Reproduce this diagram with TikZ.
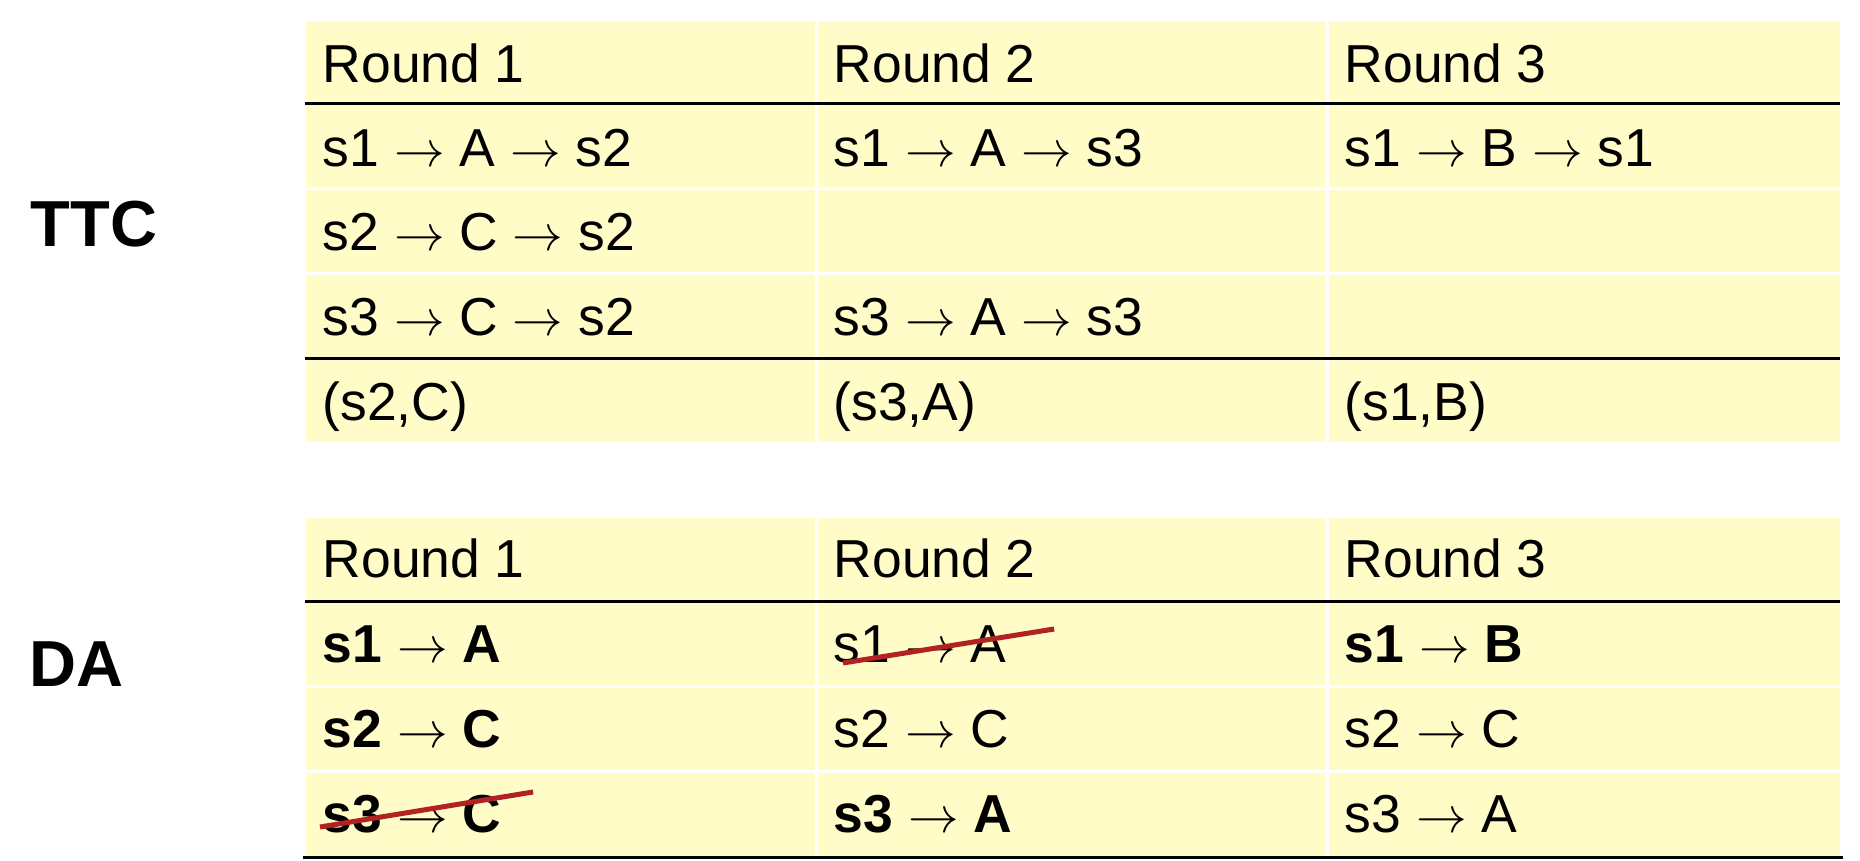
\documentclass[tikz,border=0pt]{standalone}
\usepackage{fontspec}
\setmainfont{Liberation Sans}
\usetikzlibrary{calc}

\definecolor{cellyellow}{RGB}{255,252,200}
\definecolor{strikered}{RGB}{178,34,34}

\newcommand{\arr}{\ensuremath{\rightarrow}}

\begin{document}
\begin{tikzpicture}[x=0.01cm, y=-0.01cm]
	\tikzset{tab/.style={
		rectangle, fill=cellyellow, anchor=north west, inner sep=0pt, minimum width=15.33cm
	}}
	\tikzset{entry/.style={
		anchor=base west, inner sep=0pt, font=\fontsize{15.2pt}{18pt}\selectfont
	}}
	\tikzset{algo/.style={
		anchor=base west, inner sep=0pt, font=\fontsize{18.5pt}{22pt}\selectfont\bfseries
	}}
	\tikzset{sep/.style={
		white, line width=0.03cm
	}}
	\tikzset{rule/.style={
		black, line width=0.03cm
	}}
	\tikzset{strike/.style={
		strikered, line width=0.05cm
	}}

	\useasboundingbox (0,0) rectangle (1860,860);

	% TTC
	\node (TTC) [algo] at (30,246) {TTC};
	\node (TTC_table) [tab, minimum height=4.21cm] at (305,20) {};

		% Cell borders
		\draw[sep] ([xshift=5.11cm] TTC_table.north west) -- ([xshift=5.11cm] TTC_table.south west);
		\draw[sep] ([xshift=10.22cm] TTC_table.north west) -- ([xshift=10.22cm] TTC_table.south west);
		\draw[sep] ([yshift=-1.685cm] TTC_table.north west) -- ([yshift=-1.685cm] TTC_table.north east);
		\draw[sep] ([yshift=-2.53cm] TTC_table.north west) -- ([yshift=-2.53cm] TTC_table.north east);
		\draw[rule] ([yshift=-0.835cm] TTC_table.north west) -- ([yshift=-0.835cm] TTC_table.north east);
		\draw[rule] ([yshift=-3.38cm] TTC_table.north west) -- ([yshift=-3.38cm] TTC_table.north east);

		% Head
		\node (TTC_head1) [entry] at (322,82) {Round 1};
		\node (TTC_head2) [entry] at (833,82) {Round 2};
		\node (TTC_head3) [entry] at (1344,82) {Round 3};

		% Cycles
		\node (TTC_row1_1) [entry] at (322,166.5) {s1 \arr{} A \arr{} s2};
		\node (TTC_row1_2) [entry] at (833,166.5) {s1 \arr{} A \arr{} s3};
		\node (TTC_row1_3) [entry] at (1344,166.5) {s1 \arr{} B \arr{} s1};
		\node (TTC_row2_1) [entry] at (322,250.5) {s2 \arr{} C \arr{} s2};
		\node (TTC_row3_1) [entry] at (322,335) {s3 \arr{} C \arr{} s2};
		\node (TTC_row3_2) [entry] at (833,335) {s3 \arr{} A \arr{} s3};

		% Result
		\node (TTC_res1) [entry] at (322,420) {(s2,C)};
		\node (TTC_res2) [entry] at (833,420) {(s3,A)};
		\node (TTC_res3) [entry] at (1344,420) {(s1,B)};

	% DA
	\node (DA) [algo] at (29,686) {DA};
	\node (DA_table) [tab, minimum height=3.39cm] at (305,517) {};

		% Cell borders
		\draw[sep] ([xshift=5.11cm] DA_table.north west) -- ([xshift=5.11cm] DA_table.south west);
		\draw[sep] ([xshift=10.22cm] DA_table.north west) -- ([xshift=10.22cm] DA_table.south west);
		\draw[sep] ([yshift=-1.69cm] DA_table.north west) -- ([yshift=-1.69cm] DA_table.north east);
		\draw[sep] ([yshift=-2.54cm] DA_table.north west) -- ([yshift=-2.54cm] DA_table.north east);
		\draw[rule] ([yshift=-0.84cm] DA_table.north west) -- ([yshift=-0.84cm] DA_table.north east);
		\draw[rule] ([xshift=-0.02cm] DA_table.south west) -- ([xshift=0.03cm] DA_table.south east);

		% Head
		\node (DA_head1) [entry] at (322,577) {Round 1};
		\node (DA_head2) [entry] at (833,577) {Round 2};
		\node (DA_head3) [entry] at (1344,577) {Round 3};

		% Proposals
		\node (DA_row1_1) [entry] at (322,662) {\textbf{s1} \arr{} \textbf{A}};
		\node (DA_row1_2) [entry] at (833,662) {s1 \arr{} A};
		\node (DA_row1_3) [entry] at (1344,662) {\textbf{s1} \arr{} \textbf{B}};
		\node (DA_row2_1) [entry] at (322,747) {\textbf{s2} \arr{} \textbf{C}};
		\node (DA_row2_2) [entry] at (833,747) {s2 \arr{} C};
		\node (DA_row2_3) [entry] at (1344,747) {s2 \arr{} C};
		\node (DA_row3_1) [entry] at (322,832) {\textbf{s3} \arr{} \textbf{C}};
		\node (DA_row3_2) [entry] at (833,832) {\textbf{s3} \arr{} \textbf{A}};
		\node (DA_row3_3) [entry] at (1344,832) {s3 \arr{} A};

		% Rejected
		\draw[strike] ([shift={(0.1cm,-0.01cm)}] DA_row1_2.base west) -- ([shift={(2.21cm,0.33cm)}] DA_row1_2.base west);
		\draw[strike] ([shift={(-0.02cm,0.05cm)}] DA_row3_1.base west) -- ([shift={(2.11cm,0.40cm)}] DA_row3_1.base west);
\end{tikzpicture}
\end{document}
